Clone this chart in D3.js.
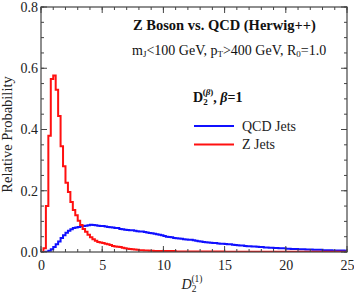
<!DOCTYPE html>
<html>
<head>
<meta charset="utf-8">
<script src="https://cdn.jsdelivr.net/npm/d3@7"></script>
<style>
  body { margin: 0; background: #fff; }
</style>
</head>
<body>
<div id="chart"></div>
<script>
// histogram bins of width 0.2 from 0 to 25
var binWidth = 0.2;
var xDomain = [0, 25];
var yDomain = [0, 0.8];
var xTicks = [0, 5, 10, 15, 20, 25];
var yTicks = [0.0, 0.2, 0.4, 0.6, 0.8];

var qcdJets = [
  0, 0, 0.001, 0.004, 0.009, 0.016, 0.025, 0.034, 0.046, 0.055,
  0.063, 0.069, 0.074, 0.078, 0.080, 0.082, 0.084, 0.085, 0.086, 0.087,
  0.089, 0.088, 0.087, 0.086, 0.085, 0.085, 0.083, 0.082, 0.081, 0.080,
  0.078, 0.078, 0.075, 0.074, 0.073, 0.072, 0.071, 0.071, 0.069, 0.068,
  0.067, 0.067, 0.065, 0.064, 0.062, 0.061, 0.060, 0.058, 0.056, 0.055,
  0.052, 0.050, 0.049, 0.048, 0.046, 0.045, 0.044, 0.043, 0.042, 0.041,
  0.040, 0.040, 0.038, 0.037, 0.035, 0.034, 0.033, 0.032, 0.031, 0.030,
  0.029, 0.029, 0.028, 0.027, 0.027, 0.026, 0.025, 0.025, 0.024, 0.023,
  0.022, 0.021, 0.021, 0.020, 0.019, 0.019, 0.018, 0.018, 0.017, 0.016,
  0.016, 0.015, 0.015, 0.014, 0.014, 0.013, 0.013, 0.012, 0.012, 0.012,
  0.011, 0.011, 0.010, 0.010, 0.010, 0.009, 0.009, 0.009, 0.008, 0.008,
  0.008, 0.007, 0.007, 0.007, 0.007, 0.006, 0.006, 0.006, 0.006, 0.005,
  0.005, 0.005, 0.005, 0.005, 0.004
];

var zJets = [
  0, 0.012, 0.150, 0.380, 0.565, 0.576, 0.530, 0.444, 0.345, 0.280,
  0.226, 0.196, 0.163, 0.137, 0.120, 0.102, 0.088, 0.075, 0.066, 0.056,
  0.048, 0.042, 0.037, 0.033, 0.031, 0.029, 0.027, 0.025, 0.023, 0.020,
  0.018, 0.017, 0.016, 0.014, 0.012, 0.011, 0.010, 0.009, 0.008, 0.007,
  0.006, 0.006, 0.005, 0.005, 0.004, 0.004, 0.003, 0.003, 0.003, 0.003,
  0.003, 0.003, 0.003, 0.003, 0.003, 0.002, 0.002, 0.002, 0.002, 0.002,
  0.002, 0.002, 0.002, 0.002, 0.002, 0.002, 0.002, 0.002, 0.002, 0.002,
  0.002, 0.002, 0.002, 0.002, 0.002, 0.001, 0.001, 0.001, 0.001, 0.001,
  0.001, 0.001, 0.001, 0.001, 0.001, 0.001, 0.001, 0.001, 0.001, 0.001,
  0.001, 0.001, 0.001, 0.001, 0.001, 0.001, 0.001, 0.001, 0.001, 0.001,
  0.001, 0.001, 0.001, 0.001, 0.001, 0.001, 0.001, 0.001, 0.001, 0.001,
  0.001, 0.001, 0.001, 0.001, 0.001, 0.001, 0.001, 0.001, 0.001, 0.001,
  0.001, 0.001, 0.001, 0.001, 0.001
];

var seriesNames = ["QCD Jets", "Z Jets"];
var seriesColors = ["#1010ff", "#ff1010"];

var serif = "'Liberation Serif', 'Times New Roman', 'DejaVu Serif', serif";
var width = 354, height = 296;
var margin = {top: 7, right: 7, bottom: 44, left: 41};
var iw = width - margin.left - margin.right,
    ih = height - margin.top - margin.bottom;

var svg = d3.select("#chart").append("svg")
  .attr("width", width)
  .attr("height", height)
  .attr("font-family", serif);

var g = svg.append("g")
  .attr("transform", "translate(" + margin.left + "," + margin.top + ")");

var x = d3.scaleLinear().domain(xDomain).range([0, iw]);
var y = d3.scaleLinear().domain(yDomain).range([ih, 0]);

// turn bin values into step points
function steps(vals) {
  var pts = vals.map(function(v, i) { return [i * binWidth, v]; });
  pts.push([vals.length * binWidth, vals[vals.length - 1]]);
  return pts;
}

var line = d3.line()
  .x(function(d) { return x(d[0]); })
  .y(function(d) { return y(d[1]); })
  .curve(d3.curveStepAfter);

g.append("defs").append("clipPath").attr("id", "clip")
  .append("rect").attr("width", iw).attr("height", ih);

var plot = g.append("g").attr("clip-path", "url(#clip)");

[qcdJets, zJets].forEach(function(vals, i) {
  plot.append("path")
    .datum(steps(vals))
    .attr("fill", "none")
    .attr("stroke", seriesColors[i])
    .attr("stroke-width", 2)
    .attr("stroke-linejoin", "miter")
    .attr("d", line);
});

// axes: ticks pointing inward on all four sides
var axisColor = "#444";
var minorX = d3.range(0, 26, 1), minorY = d3.range(0, 0.801, 0.05);

function drawTicks(sel, vals, scale, horiz, side, len) {
  sel.selectAll(null).data(vals).enter().append("line")
    .attr("x1", function(d) { return horiz ? scale(d) : (side ? iw : 0); })
    .attr("x2", function(d) { return horiz ? scale(d) : (side ? iw - len : len); })
    .attr("y1", function(d) { return horiz ? (side ? 0 : ih) : scale(d); })
    .attr("y2", function(d) { return horiz ? (side ? len : ih - len) : scale(d); })
    .attr("stroke", axisColor)
    .attr("stroke-width", 1);
}

var tk = g.append("g");
drawTicks(tk, minorX, x, true, false, 3);
drawTicks(tk, minorX, x, true, true, 3);
drawTicks(tk, xTicks, x, true, false, 6);
drawTicks(tk, xTicks, x, true, true, 6);
drawTicks(tk, minorY, y, false, false, 3);
drawTicks(tk, minorY, y, false, true, 3);
drawTicks(tk, yTicks, y, false, false, 6);
drawTicks(tk, yTicks, y, false, true, 6);

g.append("rect")
  .attr("width", iw).attr("height", ih)
  .attr("fill", "none")
  .attr("stroke", axisColor)
  .attr("stroke-width", 1.2);

var xAxis = d3.axisBottom(x).tickValues(xTicks).tickSize(0).tickPadding(8)
  .tickFormat(d3.format("d"));
g.append("g").attr("transform", "translate(0," + ih + ")").call(xAxis)
  .attr("font-family", serif).attr("font-size", 14)
  .call(function(a) { a.select(".domain").remove(); })
  .selectAll("text").attr("fill", "#222");

var yAxis = d3.axisLeft(y).tickValues(yTicks).tickSize(0).tickPadding(3)
  .tickFormat(d3.format(".1f"));
g.append("g").call(yAxis)
  .attr("font-family", serif).attr("font-size", 14)
  .call(function(a) { a.select(".domain").remove(); })
  .selectAll("text").attr("fill", "#222");

// axis titles
svg.append("text")
  .attr("transform", "translate(12," + (margin.top + ih / 2 + 5) + ") rotate(-90)")
  .attr("text-anchor", "middle")
  .attr("font-size", 14.5)
  .attr("fill", "#222")
  .text("Relative Probability");

var xl = svg.append("text")
  .attr("x", margin.left + iw / 2 - 2)
  .attr("y", 289)
  .attr("text-anchor", "middle")
  .attr("font-size", 14)
  .attr("fill", "#222");
xl.append("tspan").attr("font-style", "italic").text("D");
xl.append("tspan").attr("font-size", 9.5).attr("dy", 3).text("2");
xl.append("tspan").attr("font-size", 9.5).attr("dx", -5).attr("dy", -10).text("(1)");

// annotations
svg.append("text")
  .attr("x", 133).attr("y", 30)
  .attr("font-size", 14.5).attr("font-weight", "bold").attr("fill", "#111")
  .text("Z Boson vs. QCD (Herwig++)");

var cut = svg.append("text")
  .attr("x", 132).attr("y", 55)
  .attr("font-size", 14).attr("fill", "#111");
cut.append("tspan").text("m");
cut.append("tspan").attr("font-size", 9).attr("dy", 2).text("J");
cut.append("tspan").attr("dy", -2).text("<100 GeV, p");
cut.append("tspan").attr("font-size", 9).attr("dy", 2).text("T");
cut.append("tspan").attr("dy", -2).text(">400 GeV, R");
cut.append("tspan").attr("font-size", 9).attr("dy", 2).text("0");
cut.append("tspan").attr("dy", -2).text("=1.0");

var lt = svg.append("text")
  .attr("x", 193).attr("y", 102)
  .attr("font-size", 14).attr("font-weight", "bold").attr("fill", "#111");
lt.append("tspan").text("D");
lt.append("tspan").attr("font-size", 9).attr("dy", 3).text("2");
lt.append("tspan").attr("font-size", 9).attr("dx", -5).attr("dy", -10).text("(");
lt.append("tspan").attr("font-size", 9).attr("font-style", "italic").text("β");
lt.append("tspan").attr("font-size", 9).text(")");
lt.append("tspan").attr("dy", 7).text(", ");
lt.append("tspan").attr("font-style", "italic").text("β");
lt.append("tspan").text("=1");

var legend = svg.append("g");
seriesNames.forEach(function(name, i) {
  var ly = 126 + i * 18.5;
  legend.append("line")
    .attr("x1", 194).attr("x2", 234)
    .attr("y1", ly).attr("y2", ly)
    .attr("stroke", seriesColors[i]).attr("stroke-width", 2);
  legend.append("text")
    .attr("x", 242).attr("y", ly + 4.5)
    .attr("font-size", 14).attr("fill", "#222")
    .text(name);
});
</script>
</body>
</html>
